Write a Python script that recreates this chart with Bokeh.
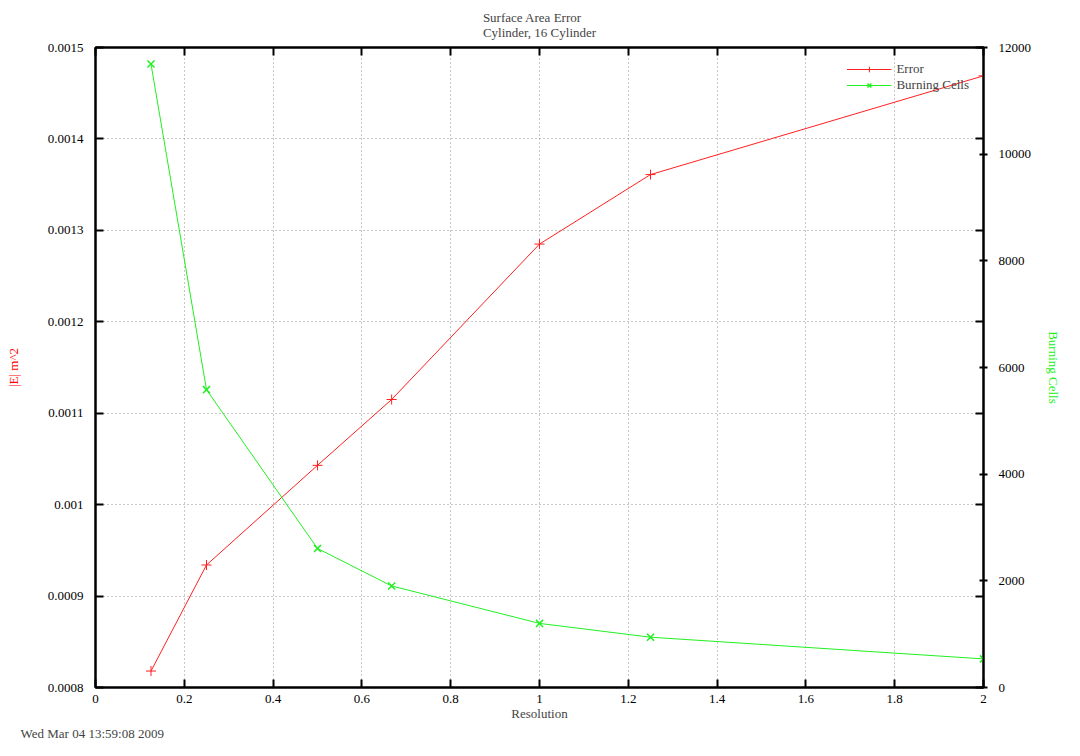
from bokeh.plotting import figure
from bokeh.models import (LinearAxis, Range1d, SingleIntervalTicker, CustomJSTickFormatter,
                          Title, Legend, LegendItem)
from bokeh.embed import file_html
from bokeh.resources import INLINE

# Data
resolution = [0.125, 0.25, 0.5, 0.667, 1.0, 1.25, 2.0]
error = [0.000818, 0.000934, 0.001043, 0.001115, 0.001285, 0.001361, 0.001469]
burning_cells = [11690, 5584, 2607, 1904, 1202, 943, 536]

FONT = "Liberation Serif"
FS = "13px"
RED = "#ff2020"
GREEN = "#20f020"

p = figure(width=1064, height=740, output_backend="svg", toolbar_location=None,
           x_range=Range1d(0, 2), y_range=Range1d(0.0008, 0.0015),
           min_border_left=95, min_border_right=69, min_border_top=47, min_border_bottom=46)
p.extra_y_ranges = {"cells": Range1d(0, 12000)}

p.outline_line_color = "black"
p.outline_line_width = 2
p.background_fill_color = "white"
p.border_fill_color = "white"

fmt = CustomJSTickFormatter(code="return String(parseFloat(tick.toFixed(6)));")
blank = CustomJSTickFormatter(code="return '';")

def style_axis(ax):
    ax.axis_line_color = "black"
    ax.axis_line_width = 2
    ax.major_tick_in = 8
    ax.major_tick_out = 0
    ax.major_tick_line_width = 2
    ax.minor_tick_line_color = None
    ax.major_label_text_font = FONT
    ax.major_label_text_font_size = FS
    ax.major_label_text_color = "black"
    ax.axis_label_text_font = FONT
    ax.axis_label_text_font_size = FS
    ax.axis_label_text_font_style = "normal"

xt = SingleIntervalTicker(interval=0.2)
yt = SingleIntervalTicker(interval=0.0001)

p.xaxis.ticker = xt
p.xaxis.formatter = fmt
p.xaxis.axis_label = "Resolution"
p.xaxis.axis_label_standoff = 0
p.xaxis.major_label_standoff = 3
p.yaxis.ticker = yt
p.yaxis.formatter = fmt
p.yaxis.axis_label = "|E| m^2"
p.yaxis.axis_label_text_color = "red"
p.yaxis.axis_label_standoff = 24
p.yaxis.major_label_standoff = 8
for ax in p.xaxis + p.yaxis:
    style_axis(ax)

# mirrored top ticks
top = LinearAxis(ticker=SingleIntervalTicker(interval=0.2), formatter=blank)
style_axis(top)
top.major_label_standoff = 0
p.add_layout(top, "above")

# mirrored left ticks on right side
mir = LinearAxis(ticker=SingleIntervalTicker(interval=0.0001), formatter=blank)
style_axis(mir)
mir.major_label_standoff = 0
p.add_layout(mir, "right")

right = LinearAxis(y_range_name="cells", ticker=SingleIntervalTicker(interval=2000),
                   formatter=fmt, axis_label="Burning Cells")
style_axis(right)
right.axis_line_color = None
right.major_label_standoff = 7
right.axis_label_text_color = GREEN
right.axis_label_standoff = 12
p.add_layout(right, "right")

p.xgrid.ticker = xt
p.ygrid.ticker = yt
for g in (p.xgrid, p.ygrid):
    g.grid_line_color = "#909090"
    g.grid_line_dash = "1 3"
    g.grid_line_width = 1

l1 = p.line(resolution, error, line_color=RED, line_width=1)
m1 = p.scatter(resolution, error, marker="cross", size=10, line_color=RED, fill_color=RED,
               line_width=1)
l2 = p.line(resolution, burning_cells, line_color=GREEN, line_width=1, y_range_name="cells")
m2 = p.scatter(resolution, burning_cells, marker="x", size=10, line_color=GREEN, fill_color=GREEN,
               line_width=1.5, y_range_name="cells")

legend = Legend(items=[LegendItem(label="Error", renderers=[l1, m1]),
                       LegendItem(label="Burning Cells", renderers=[l2, m2])],
                location="top_right")
legend.border_line_color = None
legend.background_fill_alpha = 0
legend.label_text_font = FONT
legend.label_text_font_size = FS
legend.glyph_width = 45
legend.glyph_height = 14
legend.spacing = 0
legend.padding = 4
legend.margin = 14
legend.label_height = 14
p.add_layout(legend)

p.add_layout(Title(text="Surface Area Error\nCylinder, 16 Cylinder", align="center", text_font=FONT,
                   text_font_size=FS, text_font_style="normal", standoff=8), "above")
p.add_layout(Title(text="Wed Mar 04  13:59:08 2009", align="left", offset=-75, text_font=FONT,
                   text_font_size=FS, text_font_style="normal", standoff=0), "below")

open("out.html", "w").write(file_html(p, INLINE))
